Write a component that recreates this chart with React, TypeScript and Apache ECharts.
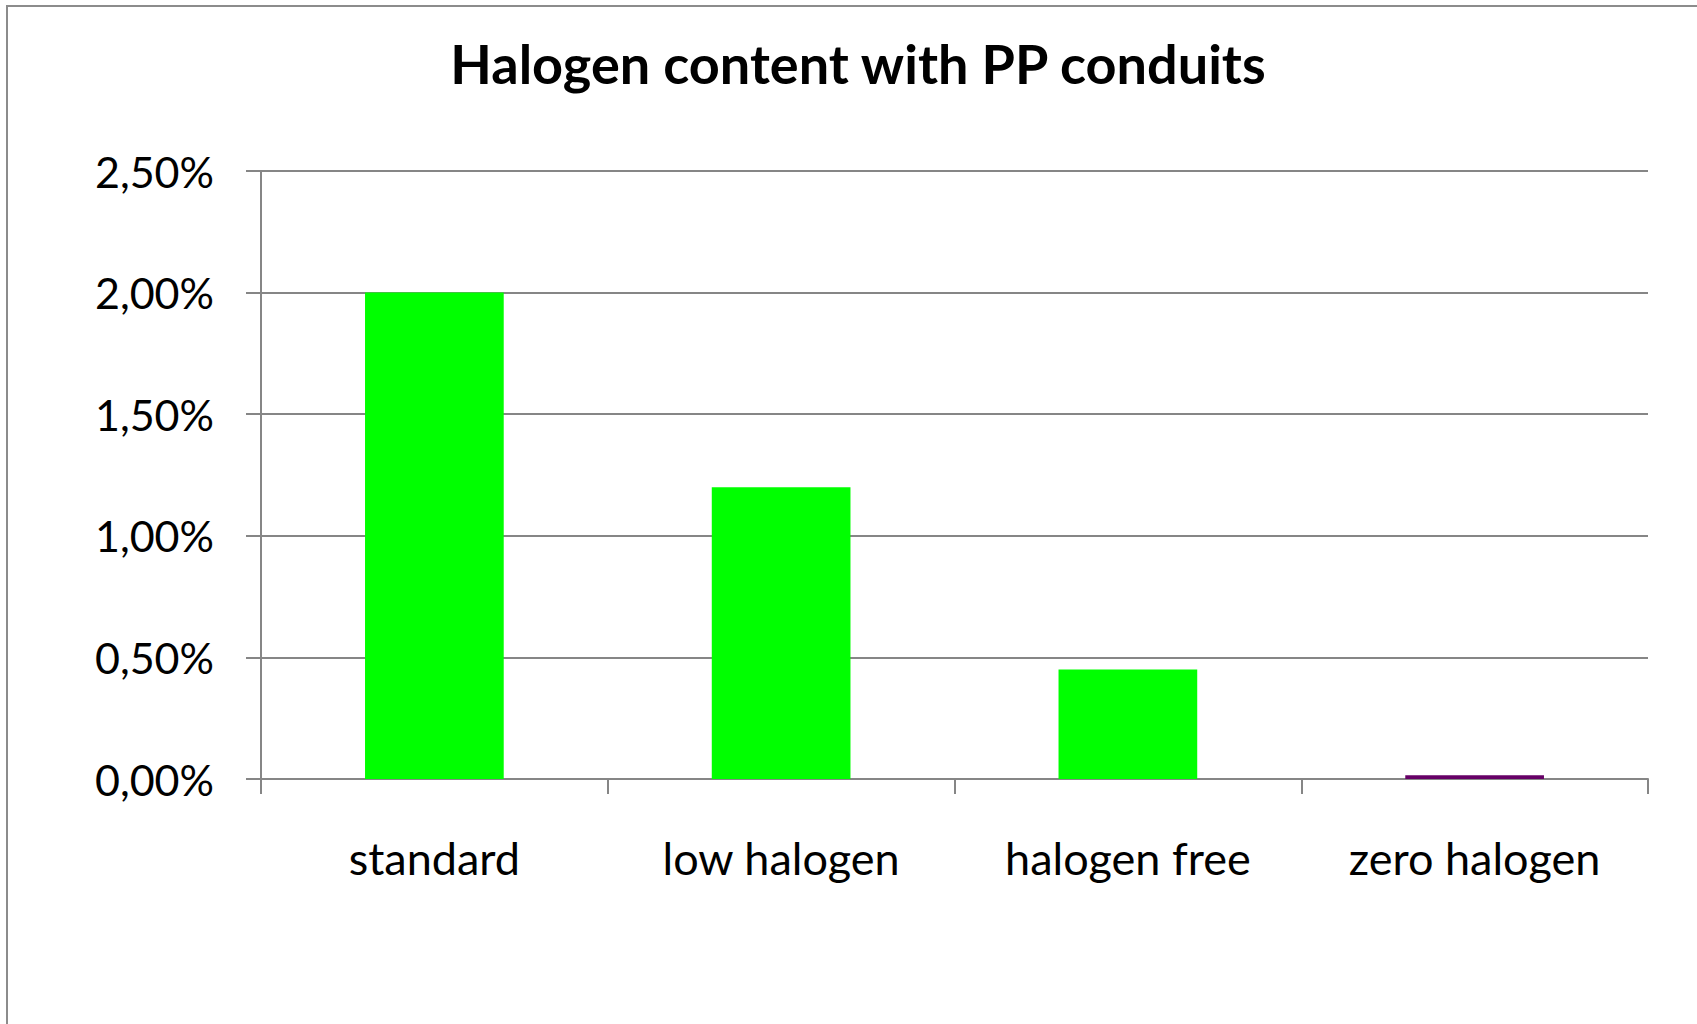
import React, { useEffect, useRef } from "react";
import * as echarts from "echarts";

const categories = ["standard", "low halogen", "halogen free", "zero halogen"];
const values = [2.0, 1.2, 0.45, 0.015];
const barColors = ["#00FF00", "#00FF00", "#00FF00", "#660066"];
const titleText = "Halogen content with PP conduits";

const fmt = (v: number) => v.toFixed(2).replace(".", ",") + "%";

export default function App() {
  const ref = useRef<HTMLDivElement>(null);
  useEffect(() => {
    document.body.style.margin = "0";
    const chart = echarts.init(ref.current!, null, { renderer: "svg" });
    const FONT = "Lato, 'Open Sans', sans-serif";
    chart.setOption({
      animation: false,
      backgroundColor: "#ffffff",
      title: {
        text: titleText,
        left: 853,
        textAlign: "center",
        top: 31,
        textStyle: { fontFamily: FONT, fontWeight: "bold", fontSize: 54, color: "#000" },
      },
      graphic: [
        {
          type: "rect",
          shape: { x: 7, y: 6, width: 1760, height: 1100 },
          style: { fill: "none", stroke: "#8c8c8c", lineWidth: 2 },
          silent: true,
        },
      ],
      grid: { left: 261, right: 49, top: 171, bottom: 245 },
      xAxis: {
        type: "category",
        data: categories,
        boundaryGap: true,
        axisLine: { lineStyle: { color: "#868686", width: 2 } },
        axisTick: { show: true, length: 15, lineStyle: { color: "#868686", width: 2 } },
        axisLabel: { color: "#000", fontFamily: FONT, fontSize: 45, margin: 56 },
      },
      yAxis: {
        type: "value",
        min: 0,
        max: 2.5,
        interval: 0.5,
        axisLine: { show: true, lineStyle: { color: "#868686", width: 2 } },
        axisTick: { show: true, length: 15, lineStyle: { color: "#868686", width: 2 } },
        splitLine: { lineStyle: { color: "#868686", width: 2 } },
        axisLabel: { color: "#000", fontFamily: FONT, fontSize: 43, margin: 47, formatter: fmt },
      },
      series: [
        {
          type: "bar",
          barWidth: "40%",
          data: values.map((v, i) => ({ value: v, itemStyle: { color: barColors[i] } })),
        },
      ],
    });
    return () => chart.dispose();
  }, []);
  return <div ref={ref} style={{ position: "absolute", left: 0, top: 0, width: 1697, height: 1024 }} />;
}
